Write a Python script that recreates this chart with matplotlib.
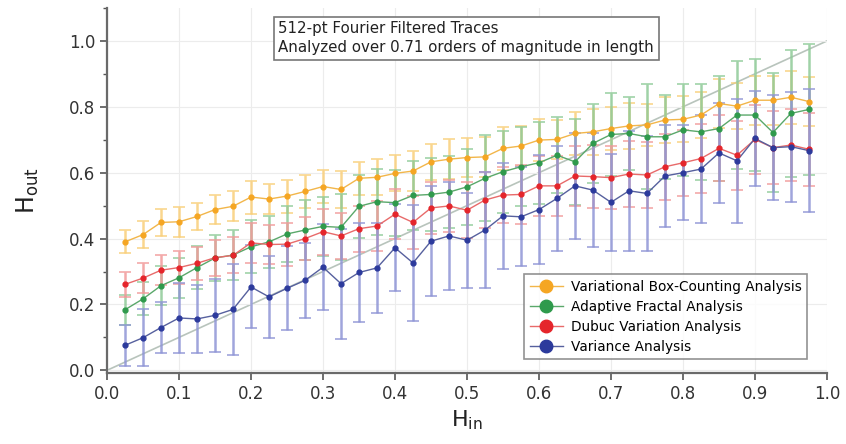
import matplotlib
matplotlib.use("Agg")
import matplotlib.pyplot as plt
from matplotlib.ticker import MultipleLocator

h_in = [0.025, 0.05, 0.075, 0.1, 0.125, 0.15, 0.175, 0.2, 0.225, 0.25,
        0.275, 0.3, 0.325, 0.35, 0.375, 0.4, 0.425, 0.45, 0.475, 0.5,
        0.525, 0.55, 0.575, 0.6, 0.625, 0.65, 0.675, 0.7, 0.725, 0.75,
        0.775, 0.8, 0.825, 0.85, 0.875, 0.9, 0.925, 0.95, 0.975]

vbc = [0.39, 0.412, 0.449, 0.451, 0.467, 0.488, 0.498, 0.526, 0.52, 0.529,
       0.543, 0.558, 0.549, 0.583, 0.586, 0.598, 0.605, 0.633, 0.641, 0.646,
       0.648, 0.674, 0.681, 0.699, 0.701, 0.719, 0.724, 0.734, 0.742, 0.745,
       0.76, 0.762, 0.775, 0.81, 0.802, 0.82, 0.82, 0.829, 0.816]
vbc_err = [0.035, 0.04, 0.04, 0.045, 0.04, 0.045, 0.045, 0.05, 0.045, 0.05,
           0.05, 0.05, 0.055, 0.05, 0.055, 0.055, 0.06, 0.055, 0.06, 0.06,
           0.06, 0.065, 0.06, 0.065, 0.06, 0.065, 0.07, 0.065, 0.07, 0.065,
           0.07, 0.07, 0.07, 0.075, 0.07, 0.075, 0.075, 0.08, 0.075]

afa = [0.184, 0.217, 0.257, 0.281, 0.312, 0.341, 0.35, 0.375, 0.39, 0.414,
       0.426, 0.437, 0.434, 0.498, 0.512, 0.509, 0.531, 0.534, 0.541, 0.557,
       0.583, 0.603, 0.618, 0.63, 0.653, 0.633, 0.689, 0.716, 0.719, 0.709,
       0.709, 0.73, 0.724, 0.734, 0.775, 0.775, 0.722, 0.78, 0.792]
afa_err = [0.045, 0.05, 0.06, 0.06, 0.065, 0.07, 0.075, 0.08, 0.08, 0.085,
           0.09, 0.09, 0.1, 0.095, 0.1, 0.1, 0.105, 0.11, 0.11, 0.115,
           0.13, 0.125, 0.12, 0.125, 0.115, 0.13, 0.12, 0.125, 0.11, 0.16,
           0.127, 0.14, 0.146, 0.16, 0.165, 0.17, 0.18, 0.193, 0.2]

dva = [0.261, 0.28, 0.304, 0.312, 0.325, 0.342, 0.349, 0.387, 0.382, 0.383,
       0.40, 0.421, 0.408, 0.43, 0.438, 0.474, 0.449, 0.493, 0.499, 0.486,
       0.517, 0.532, 0.534, 0.56, 0.56, 0.59, 0.588, 0.585, 0.596, 0.593,
       0.618, 0.63, 0.643, 0.674, 0.653, 0.701, 0.676, 0.684, 0.671]
dva_err = [0.038, 0.045, 0.045, 0.05, 0.05, 0.055, 0.055, 0.06, 0.06, 0.065,
           0.065, 0.07, 0.07, 0.07, 0.075, 0.075, 0.08, 0.08, 0.08, 0.085,
           0.085, 0.085, 0.09, 0.09, 0.09, 0.09, 0.095, 0.095, 0.1, 0.1,
           0.1, 0.1, 0.105, 0.1, 0.105, 0.105, 0.11, 0.11, 0.11]

var = [0.076, 0.099, 0.13, 0.159, 0.156, 0.167, 0.185, 0.253, 0.223, 0.249,
       0.273, 0.313, 0.263, 0.297, 0.311, 0.372, 0.326, 0.392, 0.408, 0.395,
       0.426, 0.469, 0.466, 0.488, 0.522, 0.56, 0.547, 0.51, 0.545, 0.537,
       0.59, 0.60, 0.611, 0.66, 0.636, 0.704, 0.676, 0.679, 0.667]
var_err = [0.062, 0.086, 0.077, 0.106, 0.103, 0.111, 0.137, 0.126, 0.124, 0.128,
           0.115, 0.13, 0.167, 0.15, 0.137, 0.132, 0.177, 0.167, 0.165, 0.144,
           0.175, 0.16, 0.15, 0.166, 0.159, 0.16, 0.172, 0.147, 0.182, 0.174,
           0.154, 0.144, 0.163, 0.151, 0.188, 0.145, 0.159, 0.167, 0.186]

labels = ["Variational Box-Counting Analysis", "Adaptive Fractal Analysis",
          "Dubuc Variation Analysis", "Variance Analysis"]
ident = [0.0, 1.0]

plt.rcParams['font.family'] = ['DejaVu Sans']

fig = plt.figure(figsize=(8.46, 4.44), dpi=100)
ax = fig.add_axes([0.1265, 0.16, 0.851, 0.822])

ax.plot(ident, ident, color='#b8c4bc', lw=1.2, zorder=1)

series = [
    (vbc, vbc_err, '#f5a623', '#f9cf7a', '#f2b64a'),
    (afa, afa_err, '#2f9a4c', '#8fcb98', '#5aa86a'),
    (dva, dva_err, '#e5252b', '#f19a9a', '#e86a6a'),
    (var, var_err, '#2c3a9c', '#8f95d6', '#56609e'),
]
handles = []
for (vals, err, mc, ec, lc), lab in zip(series, labels):
    ax.errorbar(h_in, vals, yerr=err, fmt='none', ecolor=ec, elinewidth=1.8,
                capsize=4, capthick=1.2, alpha=0.85, zorder=2)
    ax.plot(h_in, vals, color=lc, lw=1.0, zorder=3)
    ax.plot(h_in, vals, 'o', color=mc, ms=3.5, zorder=4)
    h, = ax.plot([], [], '-o', color=lc, mfc=mc, mec=mc, ms=9, lw=1.0)
    handles.append(h)

ax.set_xlim(0, 1.0)
ax.set_ylim(-0.008, 1.1)
ax.xaxis.set_major_locator(MultipleLocator(0.1))
ax.yaxis.set_major_locator(MultipleLocator(0.2))
ax.yaxis.set_minor_locator(MultipleLocator(0.1))
ax.xaxis.set_major_formatter(matplotlib.ticker.FormatStrFormatter('%.1f'))
ax.yaxis.set_major_formatter(matplotlib.ticker.FormatStrFormatter('%.1f'))
ax.grid(True, which='major', color='#ececec', lw=0.8, zorder=0)
for s in ['top', 'right']:
    ax.spines[s].set_visible(False)
for s in ['left', 'bottom']:
    ax.spines[s].set_color('#6a6a6a')
    ax.spines[s].set_linewidth(1.6)
ax.tick_params(axis='both', which='major', labelsize=12, length=5,
               width=1.2, color='#555555', labelcolor='#333333')
ax.tick_params(axis='y', which='minor', length=3, width=1.0, color='#555555')

ax.set_xlabel('H$_{\\mathrm{in}}$', fontsize=16, color='#222222', labelpad=4)
ax.set_ylabel('H$_{\\mathrm{out}}$', fontsize=17, color='#222222', labelpad=20)

ax.text(0.238, 0.963,
        "512-pt Fourier Filtered Traces\nAnalyzed over 0.71 orders of magnitude in length",
        transform=ax.transAxes, fontsize=10.8, va='top', ha='left',
        linespacing=1.3, color='#222222',
        bbox=dict(boxstyle='square,pad=0.3', fc='white', ec='#777777', lw=1.2))

leg = ax.legend(handles, labels, loc='lower right', bbox_to_anchor=(0.978, 0.026),
                fontsize=9.8, frameon=True, fancybox=False, handlelength=2.4,
                borderpad=0.4, labelspacing=0.45, handletextpad=0.6,
                borderaxespad=0.3)
leg.get_frame().set_edgecolor('#777777')
leg.get_frame().set_linewidth(1.2)

fig.savefig('out.png', dpi=100)
